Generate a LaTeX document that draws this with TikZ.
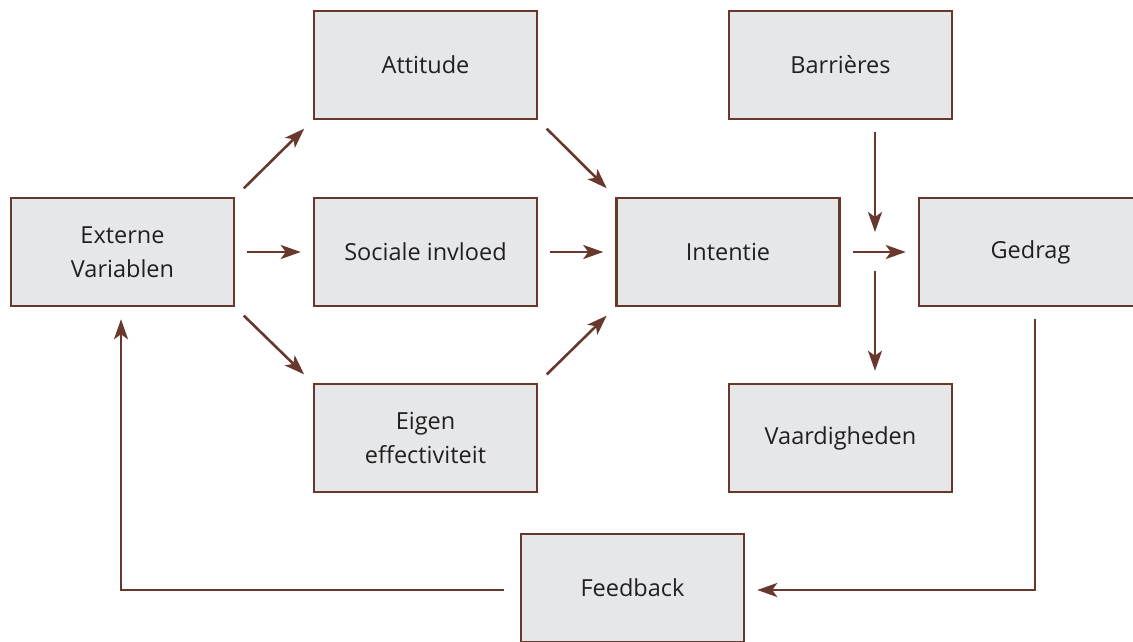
\documentclass[tikz,border=0pt]{standalone}
\usepackage{fontspec}
\setmainfont{Open Sans}
\usetikzlibrary{arrows.meta}
\definecolor{boxline}{RGB}{104,56,45}
\definecolor{boxfill}{RGB}{230,231,233}
\definecolor{txt}{RGB}{35,31,32}
\begin{document}
\begin{tikzpicture}[x=1pt,y=-1pt,
  box/.style={draw=boxline, fill=boxfill, line width=2.5pt, minimum width=223pt, minimum height=108pt,
    inner sep=0pt, align=center, text=txt, font=\fontsize{23.5}{34}\selectfont},
  conn/.style={draw=boxline, line width=2.6pt, -{Stealth[length=20pt,width=14pt,inset=5pt]},
    shorten <=12pt, shorten >=12pt}]
\useasboundingbox (0,0) rectangle (1133,641);
\clip (0,0) rectangle (1133,641);
\fill[white] (0,0) rectangle (1133,641);

\node[box] (ext) at (122.5,252) {Externe\\Variablen};
\node[box] (att) at (425.5,65) {Attitude};
\node[box] (soc) at (425.5,252) {Sociale invloed};
\node[box] (eig) at (425.5,438) {Eigen\\effectiviteit};
\node[box] (int) at (728,252) {Intentie};
\node[box] (bar) at (840.5,65) {Barrières};
\node[box] (ged) at (1030.5,252) {Gedrag};
\node[box] (vaa) at (840.5,438) {Vaardigheden};
\node[box] (fee) at (632.5,588) {Feedback};

\coordinate (gx) at (875,0);
\coordinate (bEnd) at (875,232);
\coordinate (vStart) at (875,271);
\coordinate (g1) at (1035,590);
\coordinate (f1) at (121,590);

\draw[conn] (ext.north east) -- (att.south west);
\draw[conn] (ext.east) -- (soc.west);
\draw[conn] (ext.south east) -- (eig.north west);
\draw[conn] (att.south east) -- (int.north west);
\draw[conn] (soc.east) -- (int.west);
\draw[conn] (eig.north east) -- (int.south west);
\draw[conn] (int.east) -- (ged.west);
\draw[conn, shorten >=0pt] (bar.south -| gx) -- (bEnd);
\draw[conn, shorten <=0pt] (vStart) -- (vaa.north -| vStart);
\draw[conn] (ged.south -| g1) -- (g1) -- (fee.east |- g1);
\draw[conn, shorten <=16pt] (fee.west |- f1) -- (f1) -- (ext.south -| f1);
\end{tikzpicture}
\end{document}
